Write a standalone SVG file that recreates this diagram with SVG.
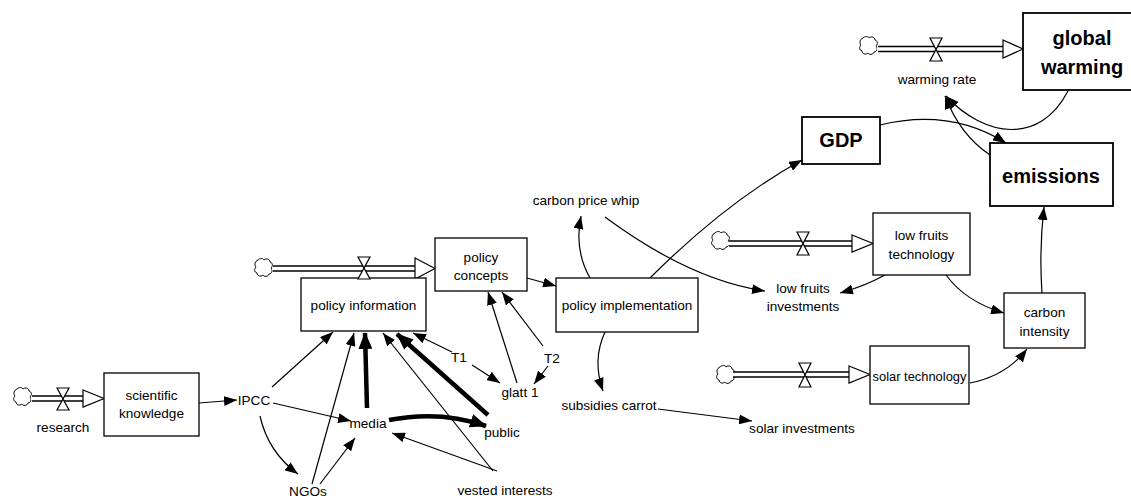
<svg xmlns="http://www.w3.org/2000/svg" width="1131" height="498" viewBox="0 0 1131 498">
<style>
text{font-family:"Liberation Sans",Arial,sans-serif;font-size:13.6px;fill:#000;text-anchor:middle}
.b{font-weight:bold;font-size:20px}
.box{fill:#fff;stroke:#000;stroke-width:1.3}
.bbox{fill:#fff;stroke:#000;stroke-width:1.8}
.c{fill:none;stroke:#000;stroke-width:1.2;marker-end:url(#a)}
.t{fill:none;stroke:#000;stroke-width:4.5;marker-end:url(#b)}
.po{fill:none;stroke:#000;stroke-width:6.5}
.pi{fill:none;stroke:#fff;stroke-width:3.6}
.hv{fill:#fff;stroke:#000;stroke-width:1.2}
.cl{fill:#fff;stroke:#000;stroke-width:1}
</style>
<defs>
<marker id="a" markerUnits="userSpaceOnUse" markerWidth="13" markerHeight="10" refX="13" refY="5" orient="auto"><path d="M0,0L13,5L0,10z" fill="#000"/></marker>
<marker id="b" markerUnits="userSpaceOnUse" markerWidth="17" markerHeight="14" refX="16" refY="7" orient="auto"><path d="M0,0L17,7L0,14z" fill="#000"/></marker>
<path id="cloud" class="cl" d="M-5,-9c2,-2 5,-2 6,0c2,-2 6,-1 6,2c3,1 3,4 1,6c2,2 1,6 -2,6c-1,3 -5,3 -6,1c-2,2 -6,1 -6,-2c-3,-1 -3,-4 -1,-6c-2,-2 -1,-6 2,-7z"/>
</defs>

<g id="flows">
<g id="flow-research">
<use href="#cloud" x="22" y="398"/>
<path class="po" d="M32,398.5H85"/><path class="pi" d="M31,398.5H86"/>
<polygon class="hv" points="83,390 104,398.5 83,407"/>
<path class="hv" d="M57,388L69,388L57,410L69,410Z"/>
</g>
<g id="flow-policy">
<use href="#cloud" x="263" y="269"/>
<path class="po" d="M273,268.5H417"/><path class="pi" d="M272,268.5H418"/>
<polygon class="hv" points="415,258 435,268.5 415,279"/>
</g>
<g id="flow-warming">
<use href="#cloud" x="868" y="47"/>
<path class="po" d="M878,49H1005"/><path class="pi" d="M877,49H1006"/>
<polygon class="hv" points="1003,40 1023,49 1003,58"/>
<path class="hv" d="M930,38L942,38L930,61L942,61Z"/>
</g>
<g id="flow-lowfruits">
<use href="#cloud" x="720" y="242"/>
<path class="po" d="M729,243.5H854"/><path class="pi" d="M728,243.5H855"/>
<polygon class="hv" points="852,235 873,243.5 852,252"/>
<path class="hv" d="M797,232L809,232L797,255L809,255Z"/>
</g>
<g id="flow-solar">
<use href="#cloud" x="725" y="376"/>
<path class="po" d="M733,374.5H851"/><path class="pi" d="M732,374.5H852"/>
<polygon class="hv" points="849,366 870,374.5 849,383"/>
<path class="hv" d="M799,363L811,363L799,387L811,387Z"/>
</g>
</g>

<g id="connectors">
<path class="c" d="M199,403L237,400"/>
<path class="c" d="M272,387L333,332"/>
<path class="c" d="M273,403L351,421"/>
<path class="c" d="M260,416Q268,452 298,474"/>
<path class="c" d="M312,484L354,333"/>
<path class="c" d="M320,484L355,438"/>
<path class="t" d="M367,408L365,333"/>
<path class="t" d="M389,420Q440,410 486,426"/>
<path class="t" d="M488,415L397,334"/>
<path class="c" d="M497,471L392,433"/>
<path class="c" d="M493,471L383,333"/>
<path class="c" d="M452,352L413,333"/>
<path class="c" d="M472,365L500,383"/>
<path class="c" d="M517,383L488,292"/>
<path class="c" d="M543,346L502,292"/>
<path class="c" d="M548,366L534,384"/>
<path class="c" d="M527,278L556,286"/>
<path class="c" d="M590,278Q574,250 581,216"/>
<path class="c" d="M605,217Q690,280 765,291"/>
<path class="c" d="M650,278Q726,202 802,160"/>
<path class="c" d="M605,332Q592,360 603,391"/>
<path class="c" d="M658,409L752,421"/>
<path class="c" d="M885,275Q865,286 840,293"/>
<path class="c" d="M946,275Q966,302 1004,313"/>
<path class="c" d="M970,383Q1006,376 1027,349"/>
<path class="c" d="M1042,293Q1039,250 1044,207"/>
<path class="c" d="M880,125Q950,108 1006,143"/>
<path class="c" d="M1068,91C1040,145 985,138 946,96"/>
<path class="c" d="M990,155Q960,135 945,96"/>
</g>

<g id="scientific-knowledge"><rect class="box" x="104" y="373" width="95" height="63"/><text x="151.5" y="400">scientific</text><text x="151.5" y="418">knowledge</text></g>
<g id="policy-information"><rect class="box" x="301" y="278" width="125" height="53"/><text x="363.5" y="310">policy information</text></g>
<g id="policy-valve"><path class="hv" d="M358,257L370,257L358,279L370,279Z"/></g>
<g id="policy-concepts"><rect class="box" x="435" y="238" width="92" height="53"/><text x="481" y="262">policy</text><text x="481" y="280">concepts</text></g>
<g id="policy-implementation"><rect class="box" x="556" y="278" width="142" height="54"/><text x="627" y="310">policy implementation</text></g>
<g id="gdp"><rect class="bbox" x="802" y="117" width="78" height="47"/><text class="b" x="841" y="147">GDP</text></g>
<g id="global-warming"><rect class="bbox" x="1023" y="13" width="120" height="77"/><text class="b" x="1082" y="45">global</text><text class="b" x="1082" y="74">warming</text></g>
<g id="emissions"><rect class="bbox" x="990" y="143" width="123" height="63"/><text class="b" x="1051" y="183">emissions</text></g>
<g id="low-fruits-technology"><rect class="box" x="873" y="213" width="97" height="62"/><text x="921.5" y="240">low fruits</text><text x="921.5" y="259">technology</text></g>
<g id="carbon-intensity"><rect class="box" x="1004" y="293" width="81" height="55"/><text x="1044.5" y="317">carbon</text><text x="1044.5" y="336">intensity</text></g>
<g id="solar-technology"><rect class="box" x="870" y="346" width="99" height="58"/><text x="919.5" y="381" style="font-size:12.9px">solar technology</text></g>

<g id="research"><text x="63" y="432">research</text></g>
<g id="ipcc"><text x="254" y="405">IPCC</text></g>
<g id="media"><text x="368" y="428">media</text></g>
<g id="public"><text x="502" y="437">public</text></g>
<g id="ngos"><text x="308" y="496">NGOs</text></g>
<g id="vested-interests"><text x="505" y="495">vested interests</text></g>
<g id="t1"><text x="459" y="362">T1</text></g>
<g id="t2"><text x="552" y="363">T2</text></g>
<g id="glatt-1"><text x="520" y="397">glatt 1</text></g>
<g id="carbon-price-whip"><text x="586" y="205">carbon price whip</text></g>
<g id="subsidies-carrot"><text x="609" y="410">subsidies carrot</text></g>
<g id="solar-investments"><text x="802" y="433">solar investments</text></g>
<g id="low-fruits-investments"><text x="803" y="293">low fruits</text><text x="803" y="311">investments</text></g>
<g id="warming-rate"><text x="937" y="84">warming rate</text></g>
</svg>
